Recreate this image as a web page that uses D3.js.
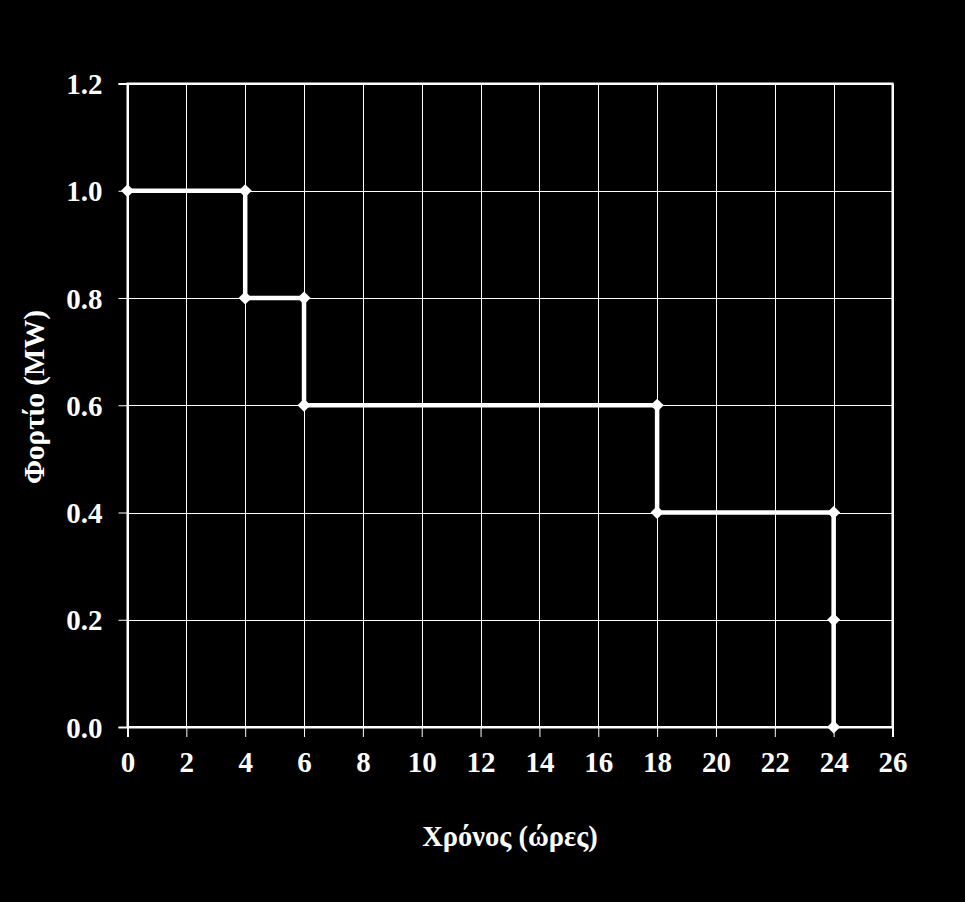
<!DOCTYPE html>
<html><head><meta charset="utf-8">
<script src="https://cdn.jsdelivr.net/npm/d3@7"></script>
<style>
html,body{margin:0;padding:0;background:#000;}
svg{display:block;}
text{font-family:"Liberation Serif","Times New Roman",serif;font-weight:bold;fill:#fff;}
</style></head>
<body>
<script>
const hours = [0, 4, 4, 6, 6, 18, 18, 24, 24, 24];
const loadMW = [1.0, 1.0, 0.8, 0.8, 0.6, 0.6, 0.4, 0.4, 0.2, 0.0];
const xTicks = [0,2,4,6,8,10,12,14,16,18,20,22,24,26];
const yTicks = [0,0.2,0.4,0.6,0.8,1.0,1.2];
const xTitle = "Χρόνος (ώρες)";
const yTitle = "Φορτίο (MW)";

const W = 965, H = 902;
const m = {left:127.5, right:965-892.5, top:83.5, bottom:902-727};
const svg = d3.select("body").append("svg").attr("width",W).attr("height",H);
svg.append("rect").attr("width",W).attr("height",H).attr("fill","#000");

const x = d3.scaleLinear().domain([0,26]).range([m.left, W-m.right]);
const y = d3.scaleLinear().domain([0,1.2]).range([H-m.bottom, m.top]);

// gridlines
const g = svg.append("g");
g.selectAll("line.vx").data(xTicks).join("line")
  .attr("x1",d=>Math.round(x(d))+0.5).attr("x2",d=>Math.round(x(d))+0.5)
  .attr("y1",y(1.2)).attr("y2",y(0)).attr("stroke","#fff").attr("stroke-width",1);
g.selectAll("line.hy").data(yTicks).join("line")
  .attr("y1",d=>Math.round(y(d))+0.5).attr("y2",d=>Math.round(y(d))+0.5)
  .attr("x1",x(0)).attr("x2",x(26)).attr("stroke","#fff").attr("stroke-width",1);

// border
svg.append("rect").attr("x",x(0)).attr("y",y(1.2)).attr("width",x(26)-x(0)).attr("height",y(0)-y(1.2))
  .attr("fill","none").attr("stroke","#fff").attr("stroke-width",2);

// axes
const fmt = d3.format(".1f");
const xAxis = svg.append("g").attr("transform",`translate(0,${y(0)})`)
  .call(d3.axisBottom(x).tickValues(xTicks).tickSize(10).tickPadding(14).tickFormat(d3.format("d")));
const yAxis = svg.append("g").attr("transform",`translate(${x(0)},0)`)
  .call(d3.axisLeft(y).tickValues(yTicks).tickSize(9).tickPadding(16).tickFormat(fmt));
[xAxis,yAxis].forEach(a=>{
  a.select(".domain").attr("stroke","#fff").attr("stroke-width",2);
  a.selectAll(".tick line").attr("stroke","#fff").attr("stroke-width",1);
  a.selectAll(".tick text").attr("fill","#fff").style("font-size","29px")
   .style("font-family",'"Liberation Serif",serif').style("font-weight","bold");
});
yAxis.selectAll(".tick text").attr("dy","0.35em");

// titles
svg.append("text").attr("x",(x(0)+x(26))/2).attr("y",846).attr("text-anchor","middle")
  .style("font-size","28.5px").text(xTitle);
svg.append("text").attr("transform",`translate(44,397) rotate(-90)`).attr("text-anchor","middle")
  .style("font-size","29px").text(yTitle);

// series
const pts = hours.map((h,i)=>({h, v:loadMW[i]}));
svg.append("path").datum(pts)
  .attr("d", d3.line().x(d=>x(d.h)).y(d=>y(d.v)))
  .attr("fill","none").attr("stroke","#fff").attr("stroke-width",4.5);
svg.selectAll("path.mk").data(pts).join("path").attr("class","mk")
  .attr("transform",d=>`translate(${x(d.h)},${y(d.v)})`)
  .attr("d", d3.symbol().type(d3.symbolDiamond2).size(110))
  .attr("fill","#fff");
</script>
</body></html>
